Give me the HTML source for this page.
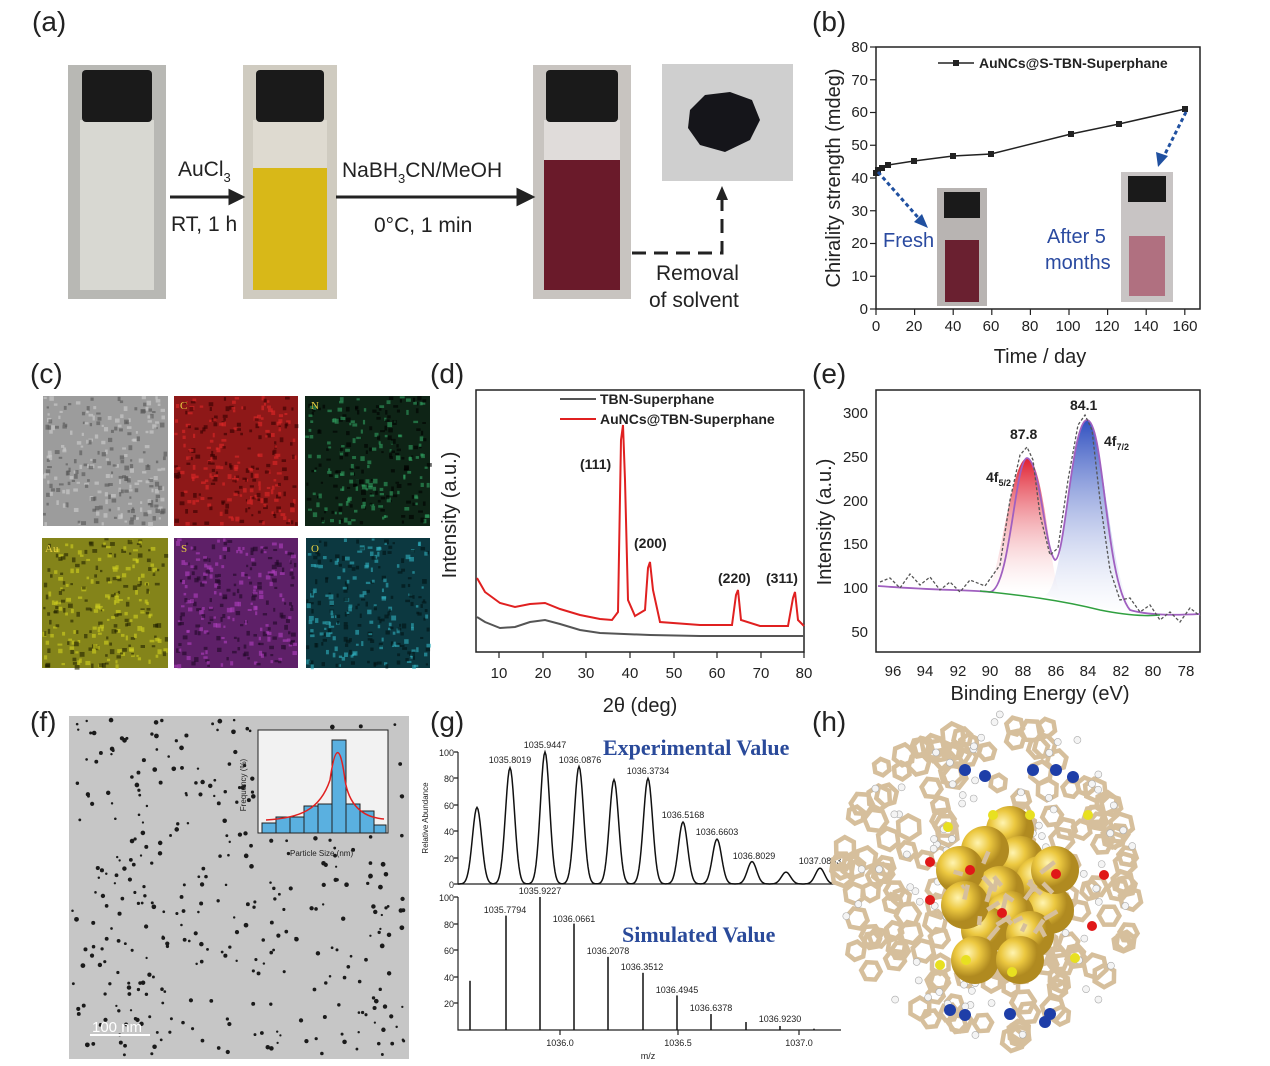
<!DOCTYPE html>
<html><head><meta charset="utf-8"><style>
html,body{margin:0;padding:0;background:#fff}
svg{display:block;font-family:"Liberation Sans",sans-serif}
</style></head><body>
<svg id="s" width="1270" height="1066" viewBox="0 0 1270 1066" xmlns="http://www.w3.org/2000/svg">
<defs>
<linearGradient id="r1" x1="0" y1="0" x2="0" y2="1"><stop offset="0" stop-color="#e02030"/><stop offset="1" stop-color="#fff" stop-opacity=".3"/></linearGradient>
<linearGradient id="b1" x1="0" y1="0" x2="0" y2="1"><stop offset="0" stop-color="#3050c0"/><stop offset="1" stop-color="#fff" stop-opacity=".3"/></linearGradient>
<radialGradient id="au" cx=".35" cy=".35"><stop offset="0" stop-color="#fff4b0"/><stop offset=".5" stop-color="#ecc840"/><stop offset="1" stop-color="#b08a20"/></radialGradient>
</defs>
<g font-size="28" fill="#222">
<text x="32" y="31">(a)</text><text x="812" y="31">(b)</text><text x="30" y="383">(c)</text><text x="430" y="383">(d)</text><text x="812" y="383">(e)</text><text x="30" y="731">(f)</text><text x="430" y="731">(g)</text><text x="812" y="731">(h)</text>
</g>
<!-- (a) vials -->
<rect x="68" y="65" width="98" height="234" fill="#b8b8b4"/>
<rect x="80" y="120" width="74" height="170" fill="#d8d8d2"/>
<rect x="82" y="70" width="70" height="52" rx="4" fill="#1a1a1a"/>
<rect x="243" y="65" width="94" height="234" fill="#cfcbc0"/>
<rect x="253" y="168" width="74" height="122" fill="#d8b818"/>
<rect x="253" y="120" width="74" height="48" fill="#dedad0"/>
<rect x="256" y="70" width="68" height="52" rx="4" fill="#1a1a1a"/>
<rect x="533" y="65" width="98" height="234" fill="#c8c4c0"/>
<rect x="544" y="160" width="76" height="130" fill="#6a1a2a"/>
<rect x="544" y="120" width="76" height="40" fill="#e0dcda"/>
<rect x="546" y="70" width="72" height="52" rx="4" fill="#1a1a1a"/>
<rect x="662" y="64" width="131" height="117" fill="#cfcfcf"/>
<path d="M690 110 L705 95 L730 92 L752 100 L760 120 L750 140 L725 152 L700 145 L688 128 Z" fill="#15151a"/>
<g stroke="#222" stroke-width="3" fill="#222">
<line x1="170" y1="197" x2="232" y2="197"/><polygon points="242,197 230,191 230,203"/>
<line x1="336" y1="197" x2="520" y2="197"/><polygon points="532,197 518,190 518,204"/>
</g>
<path d="M632 253 H722 V200" stroke="#222" stroke-width="3" fill="none" stroke-dasharray="14,8"/>
<polygon points="722,186 716,200 728,200" fill="#222"/>
<g font-size="21" fill="#222">
<text x="178" y="176">AuCl<tspan font-size="13" dy="6">3</tspan></text>
<text x="171" y="231">RT, 1 h</text>
<text x="342" y="177">NaBH<tspan font-size="13" dy="6">3</tspan><tspan dy="-6">CN/MeOH</tspan></text>
<text x="374" y="232">0°C, 1 min</text>
<text x="656" y="280">Removal</text>
<text x="649" y="307">of  solvent</text>
</g>
<!-- (b) -->
<rect x="876" y="47" width="324" height="262" fill="none" stroke="#222" stroke-width="1.5"/>
<g id="bt" stroke="#222" stroke-width="1.2"></g>
<g font-size="15" fill="#222" text-anchor="middle">
<text x="876" y="331">0</text><text x="914" y="331">20</text><text x="953" y="331">40</text><text x="991" y="331">60</text><text x="1030" y="331">80</text><text x="1068" y="331">100</text><text x="1107" y="331">120</text><text x="1146" y="331">140</text><text x="1185" y="331">160</text>
</g>
<g font-size="15" fill="#222" text-anchor="end">
<text x="868" y="314">0</text><text x="868" y="281">10</text><text x="868" y="248">20</text><text x="868" y="216">30</text><text x="868" y="183">40</text><text x="868" y="150">50</text><text x="868" y="117">60</text><text x="868" y="85">70</text><text x="868" y="52">80</text>
</g>
<text x="1040" y="363" font-size="20" text-anchor="middle" fill="#222">Time / day</text>
<text transform="translate(840,178) rotate(-90)" font-size="20" text-anchor="middle" fill="#222">Chirality strength (mdeg)</text>
<polyline points="876,173 878,170 882,168 888,165 914,161 953,156 991,154 1071,134 1119,124 1185,109" fill="none" stroke="#222" stroke-width="1.5"/>
<g fill="#222"><rect x="873" y="170" width="6" height="6"/><rect x="875" y="167" width="6" height="6"/><rect x="879" y="165" width="6" height="6"/><rect x="885" y="162" width="6" height="6"/><rect x="911" y="158" width="6" height="6"/><rect x="950" y="153" width="6" height="6"/><rect x="988" y="151" width="6" height="6"/><rect x="1068" y="131" width="6" height="6"/><rect x="1116" y="121" width="6" height="6"/><rect x="1182" y="106" width="6" height="6"/></g>
<line x1="938" y1="63" x2="974" y2="63" stroke="#222" stroke-width="1.5"/><rect x="953" y="60" width="6" height="6" fill="#222"/>
<text x="979" y="68" font-size="14" font-weight="bold" fill="#222">AuNCs@S-TBN-Superphane</text>
<rect x="937" y="188" width="50" height="118" fill="#b8b4b2"/><rect x="945" y="240" width="34" height="62" fill="#6a2030"/><rect x="944" y="192" width="36" height="26" fill="#1a1a1a"/>
<rect x="1121" y="172" width="52" height="130" fill="#c8c4c4"/><rect x="1129" y="236" width="36" height="60" fill="#b07080"/><rect x="1128" y="176" width="38" height="26" fill="#1a1a1a"/>
<g stroke="#2050a0" stroke-width="3" stroke-dasharray="4,3" fill="none"><line x1="878" y1="172" x2="922" y2="222"/><line x1="1186" y1="112" x2="1162" y2="160"/></g>
<polygon points="928,228 914,222 922,214" fill="#2050a0"/><polygon points="1158,167 1156,152 1168,156" fill="#2050a0"/>
<g font-size="20" fill="#2a4aa0"><text x="883" y="247">Fresh</text><text x="1047" y="243">After 5</text><text x="1045" y="269">months</text></g>
<!-- (c) -->
<rect x="43" y="396" width="125" height="130" fill="#9c9c9c"/>
<rect x="174" y="396" width="124" height="130" fill="#8e1818"/>
<rect x="305" y="396" width="125" height="130" fill="#0e2416"/>
<rect x="42" y="538" width="126" height="130" fill="#84841a"/>
<rect x="174" y="538" width="124" height="130" fill="#5e2068"/>
<rect x="306" y="538" width="124" height="130" fill="#0c3840"/>
<g id="cn"></g>
<g font-size="11" fill="#e8d040" font-family="Liberation Serif"><text x="180" y="409">C</text><text x="311" y="409">N</text><text x="45" y="552">Au</text><text x="181" y="552">S</text><text x="311" y="552">O</text></g>
<!-- (d) -->
<rect x="476" y="390" width="328" height="262" fill="none" stroke="#222" stroke-width="1.5"/>
<g font-size="15" fill="#222" text-anchor="middle"><text x="499" y="678">10</text><text x="543" y="678">20</text><text x="586" y="678">30</text><text x="630" y="678">40</text><text x="674" y="678">50</text><text x="717" y="678">60</text><text x="761" y="678">70</text><text x="804" y="678">80</text></g>
<g stroke="#222" stroke-width="1.2"><path d="M499 652v6M543 652v6M586 652v6M630 652v6M674 652v6M717 652v6M761 652v6M804 652v6"/></g>
<text x="640" y="712" font-size="20" text-anchor="middle" fill="#222">2θ (deg)</text>
<text transform="translate(456,515) rotate(-90)" font-size="20" text-anchor="middle" fill="#222">Intensity (a.u.)</text>
<path d="M477 617 L485 622 L500 628 L515 627 L530 622 L545 620 L560 624 L580 630 L600 633 L650 635 L700 636 L804 636" fill="none" stroke="#555" stroke-width="2"/>
<path d="M477 578 L485 592 L500 603 L515 607 L530 604 L545 603 L560 609 L580 615 L600 619 L612 620 L618 612 L621 440 L623 425 L625 480 L628 600 L635 616 L645 610 L648 568 L650 562 L653 590 L660 622 L700 625 L732 625 L736 595 L738 590 L741 620 L760 626 L788 626 L793 598 L795 592 L798 620 L804 626" fill="none" stroke="#e02020" stroke-width="2"/>
<line x1="560" y1="399" x2="596" y2="399" stroke="#555" stroke-width="2"/><line x1="560" y1="419" x2="596" y2="419" stroke="#e02020" stroke-width="2"/>
<g font-size="14" font-weight="bold" fill="#222"><text x="600" y="404">TBN-Superphane</text><text x="600" y="424">AuNCs@TBN-Superphane</text>
<text x="580" y="469">(111)</text><text x="634" y="548">(200)</text><text x="718" y="583">(220)</text><text x="766" y="583">(311)</text></g>
<!-- (e) -->
<rect x="876" y="390" width="324" height="262" fill="none" stroke="#222" stroke-width="1.5"/>
<g font-size="15" fill="#222" text-anchor="middle"><text x="893" y="676">96</text><text x="925" y="676">94</text><text x="958" y="676">92</text><text x="990" y="676">90</text><text x="1023" y="676">88</text><text x="1056" y="676">86</text><text x="1088" y="676">84</text><text x="1121" y="676">82</text><text x="1153" y="676">80</text><text x="1186" y="676">78</text></g>
<g font-size="15" fill="#222" text-anchor="end"><text x="868" y="418">300</text><text x="868" y="462">250</text><text x="868" y="506">200</text><text x="868" y="549">150</text><text x="868" y="593">100</text><text x="868" y="637">50</text></g>
<text x="1040" y="700" font-size="20" text-anchor="middle" fill="#222">Binding Energy (eV)</text>
<text transform="translate(831,522) rotate(-90)" font-size="20" text-anchor="middle" fill="#222">Intensity (a.u.)</text>
<path d="M985 592 C1000 585 1010 460 1027 458 C1044 460 1050 575 1060 592 Z" fill="url(#r1)"/>
<path d="M1045 595 C1065 590 1070 420 1087 420 C1104 420 1110 610 1140 615 L1060 600 Z" fill="url(#b1)"/>
<path d="M878 586 C930 590 970 590 990 592 C1010 590 1015 460 1027 458 C1040 460 1045 550 1055 560 C1065 560 1072 420 1087 420 C1104 420 1105 580 1130 610 C1150 616 1180 615 1200 614" fill="none" stroke="#a060c0" stroke-width="1.8"/>
<path d="M980 591 C1020 595 1060 600 1100 610 C1130 616 1150 616 1160 615" fill="none" stroke="#30a040" stroke-width="1.5"/>
<path d="M880 582 L890 578 L900 588 L910 574 L920 585 L930 577 L940 590 L950 582 L960 592 L970 580 L985 586 L1000 565 L1010 500 L1020 455 L1027 447 L1033 460 L1040 515 L1050 555 L1058 548 L1068 480 L1078 425 L1085 415 L1092 430 L1100 500 L1110 570 L1120 600 L1130 598 L1140 612 L1150 605 L1160 620 L1170 612 L1180 622 L1190 608 L1200 616" fill="none" stroke="#555" stroke-width="1.3" stroke-dasharray="3,2"/>
<g font-size="14" font-weight="bold" fill="#222"><text x="1010" y="439">87.8</text><text x="1070" y="410">84.1</text><text x="986" y="482">4f<tspan font-size="9" dy="4">5/2</tspan></text><text x="1104" y="446">4f<tspan font-size="9" dy="4">7/2</tspan></text></g>
<!-- (f) -->
<rect x="69" y="716" width="340" height="343" fill="#c6c6c6"/>
<g id="dots" fill="#1a1a1a"></g>
<rect x="258" y="730" width="130" height="103" fill="#f2f2f2" stroke="#222"/>
<g fill="#5ab0e0" stroke="#222" stroke-width="1"><rect x="262" y="823" width="14" height="10"/><rect x="276" y="817" width="14" height="16"/><rect x="290" y="817" width="14" height="16"/><rect x="304" y="806" width="14" height="27"/><rect x="318" y="804" width="14" height="29"/><rect x="332" y="740" width="14" height="93"/><rect x="346" y="804" width="14" height="29"/><rect x="360" y="811" width="14" height="22"/><rect x="374" y="825" width="12" height="8"/></g>
<path d="M266 820 C300 818 320 810 330 780 C335 745 340 742 345 780 C350 812 370 818 384 819" fill="none" stroke="#e02020" stroke-width="1.5"/>
<text x="290" y="856" font-size="8" fill="#222">Particle Size (nm)</text>
<text transform="translate(246,785) rotate(-90)" font-size="8" text-anchor="middle" fill="#222">Frequency (%)</text>
<line x1="90" y1="1035" x2="150" y2="1035" stroke="#fff" stroke-width="2"/>
<text x="92" y="1032" font-size="15" fill="#fff">100  nm</text>
<!-- (g) -->
<g stroke="#222" stroke-width="1.2" fill="none">
<path d="M458 752 V884 H841 M458 897 V1030 H841"/>
<path d="M458 752h-4M458 778h-4M458 805h-4M458 831h-4M458 858h-4M458 884h-4M458 897h-4M458 924h-4M458 950h-4M458 977h-4M458 1003h-4M560 1030v5M678 1030v5M799 1030v5"/>
</g>
<path id="ms" fill="none" stroke="#111" stroke-width="1.5"/>
<g id="st" stroke="#111" stroke-width="1.5"></g>
<g font-size="9" fill="#222" text-anchor="end"><text x="454" y="756">100</text><text x="454" y="782">80</text><text x="454" y="809">60</text><text x="454" y="835">40</text><text x="454" y="862">20</text><text x="454" y="888">0</text><text x="454" y="901">100</text><text x="454" y="928">80</text><text x="454" y="954">60</text><text x="454" y="981">40</text><text x="454" y="1007">20</text></g>
<g font-size="9" fill="#222" text-anchor="middle"><text x="560" y="1046">1036.0</text><text x="678" y="1046">1036.5</text><text x="799" y="1046">1037.0</text><text x="648" y="1059">m/z</text>
<text x="545" y="748">1035.9447</text><text x="510" y="763">1035.8019</text><text x="580" y="763">1036.0876</text><text x="648" y="774">1036.3734</text><text x="683" y="818">1036.5168</text><text x="717" y="835">1036.6603</text><text x="754" y="859">1036.8029</text><text x="820" y="864">1037.0883</text>
<text x="540" y="894">1035.9227</text><text x="505" y="913">1035.7794</text><text x="574" y="922">1036.0661</text><text x="608" y="954">1036.2078</text><text x="642" y="970">1036.3512</text><text x="677" y="993">1036.4945</text><text x="711" y="1011">1036.6378</text><text x="780" y="1022">1036.9230</text></g>
<text transform="translate(428,818) rotate(-90)" font-size="8" text-anchor="middle" fill="#222">Relative Abundance</text>
<g font-family="Liberation Serif" font-weight="bold" font-size="22" fill="#2a4a9a"><text x="603" y="755">Experimental Value</text><text x="622" y="942">Simulated Value</text></g>
<!-- (h) -->
<g id="mol"></g>
</svg>
<script>
var NS="http://www.w3.org/2000/svg";
function el(p,t,a){var e=document.createElementNS(NS,t);for(var k in a)e.setAttribute(k,a[k]);p.appendChild(e);return e;}
var bt=document.getElementById('bt');
for(var v=0;v<=80;v+=10){var y=309-v*3.275;el(bt,'line',{x1:876,x2:870,y1:y,y2:y});}
for(var d=0;d<=160;d+=20){var x=876+d*1.93;el(bt,'line',{x1:x,x2:x,y1:309,y2:315});}
var seed=7;function r(){seed=(seed*16807)%2147483647;return seed/2147483647;}
// EDS speckle
var cn=document.getElementById('cn');
var boxes=[[43,396,125,130,'#cfcfcf','#555'],[174,396,124,130,'#e02828','#300'],[305,396,125,130,'#30a060','#000'],[42,538,126,130,'#d0d020','#222200'],[174,538,124,130,'#b040c0','#200826'],[306,538,124,130,'#30b0c0','#021214']];
boxes.forEach(function(b){for(var i=0;i<260;i++){var x=b[0]+r()*(b[2]-3),y=b[1]+r()*(b[3]-3);el(cn,'rect',{x:x,y:y,width:2+r()*3,height:2+r()*3,fill:r()<0.5?b[4]:b[5],opacity:.6});}});
var dots=document.getElementById('dots');
for(var i=0;i<380;i++){var x=72+r()*334,y=720+r()*336;if(x>255&&x<390&&y>727&&y<836)continue;el(dots,'circle',{cx:x,cy:y,r:1.1+r()*1.3});}
var pk=[[477,58],[510,88],[545,100],[579,89],[614,79],[648,80],[683,47],[717,34],[752,17],[786,9],[820,12]];
var d="M458 884";for(var X=458;X<=841;X+=1){var s=0;pk.forEach(function(p){s+=p[1]*Math.exp(-Math.pow((X-p[0])/6.5,2));});d+=" L"+X+" "+(884-s*1.32).toFixed(1);}
document.getElementById('ms').setAttribute('d',d);
var st=document.getElementById('st');
[[470,37],[506,86],[540,100],[574,80],[608,55],[643,43],[677,26],[711,12],[746,6],[780,3],[814,1]].forEach(function(p){el(st,'line',{x1:p[0],x2:p[0],y1:1030,y2:1030-p[1]*1.33});});
// molecule
var m=document.getElementById('mol');
for(var i=0;i<170;i++){var a=r()*6.283,rr=20+Math.sqrt(r())*130,cx=990+Math.cos(a)*rr*1.0,cy=880+Math.sin(a)*rr*1.1;var R=8+r()*4,pts=[];var o=r();for(var k=0;k<6;k++){var b=k*1.047+o;pts.push((cx+R*Math.cos(b)).toFixed(1)+","+(cy+R*Math.sin(b)).toFixed(1));}el(m,'polygon',{points:pts.join(' '),fill:'none',stroke:'#d6bf9c','stroke-width':4.5});}
for(var i=0;i<90;i++){var a=r()*6.283,rr=40+r()*115;el(m,'circle',{cx:990+Math.cos(a)*rr,cy:880+Math.sin(a)*rr*1.1,r:3.5,fill:'#f4f4f4',stroke:'#aaa','stroke-width':.6});}
[[1010,830],[1020,860],[985,850],[1040,880],[1000,890],[960,870],[1050,910],[1010,915],[985,930],[1030,935],[975,960],[1020,960],[1055,870],[965,905]].forEach(function(p){el(m,'circle',{cx:p[0],cy:p[1],r:24,fill:'url(#au)'});});
for(var i=0;i<25;i++){var a=r()*6.283,rr=r()*50;var cx=1005+Math.cos(a)*rr,cy=895+Math.sin(a)*rr;el(m,'line',{x1:cx,y1:cy,x2:cx+(r()-.5)*30,y2:cy+(r()-.5)*30,stroke:'#d6bf9c','stroke-width':4.5});}
[[965,770],[985,776],[1033,770],[1056,770],[1073,777],[950,1010],[965,1015],[1010,1014],[1050,1014],[1045,1022]].forEach(function(p){el(m,'circle',{cx:p[0],cy:p[1],r:6,fill:'#1e3ea8'});});
[[930,862],[970,870],[1056,874],[1104,875],[1002,913],[930,900],[1092,926]].forEach(function(p){el(m,'circle',{cx:p[0],cy:p[1],r:5,fill:'#e01818'});});
[[948,827],[993,815],[1030,815],[1088,815],[966,960],[1012,972],[1075,958],[940,965]].forEach(function(p){el(m,'circle',{cx:p[0],cy:p[1],r:5,fill:'#e8e020'});});
</script>
</body></html>
